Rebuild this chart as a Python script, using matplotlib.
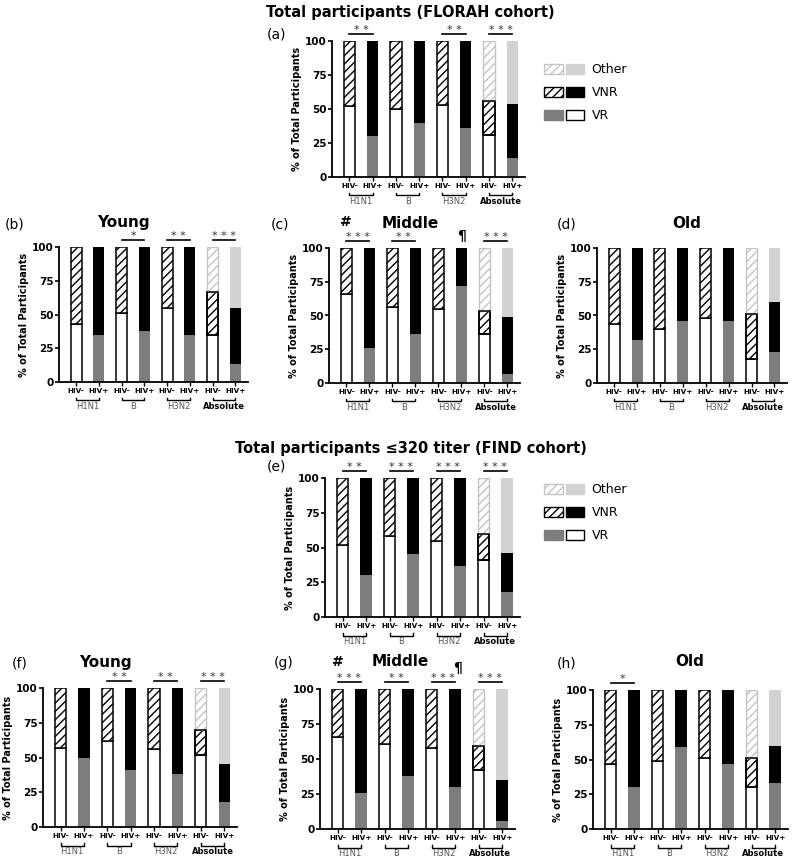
import matplotlib.pyplot as plt
from matplotlib.patches import Patch
from matplotlib.legend_handler import HandlerTuple
import matplotlib.transforms as mtransforms

plt.rcParams['font.family'] = ['DejaVu Sans']
plt.rcParams['hatch.linewidth'] = 1.0

groups = ['H1N1', 'B', 'H3N2', 'Absolute']
hiv_labels = ['HIV-', 'HIV+']

# % VR and % VNR per group (H1N1, B, H3N2, Absolute); Other = remainder
# (a) FLORAH total
vr_neg_a = [52, 50, 53, 31]
vnr_neg_a = [48, 50, 47, 25]
vr_pos_a = [30, 40, 36, 14]
vnr_pos_a = [70, 60, 64, 40]
sig_a = ['**', '', '**', '***']
# (b) FLORAH young
vr_neg_b = [43, 51, 55, 35]
vnr_neg_b = [57, 49, 45, 32]
vr_pos_b = [35, 38, 35, 13]
vnr_pos_b = [65, 62, 65, 42]
sig_b = ['', '*', '**', '***']
# (c) FLORAH middle
vr_neg_c = [66, 56, 55, 36]
vnr_neg_c = [34, 44, 45, 17]
vr_pos_c = [26, 36, 72, 7]
vnr_pos_c = [74, 64, 28, 42]
sig_c = ['***', '**', '', '***']
# (d) FLORAH old
vr_neg_d = [44, 40, 48, 18]
vnr_neg_d = [56, 60, 52, 33]
vr_pos_d = [32, 46, 46, 23]
vnr_pos_d = [68, 54, 54, 37]
sig_d = ['', '', '', '']
# (e) FIND total
vr_neg_e = [52, 58, 55, 41]
vnr_neg_e = [48, 42, 45, 19]
vr_pos_e = [30, 45, 37, 18]
vnr_pos_e = [70, 55, 63, 28]
sig_e = ['**', '***', '***', '***']
# (f) FIND young
vr_neg_f = [57, 62, 56, 52]
vnr_neg_f = [43, 38, 44, 18]
vr_pos_f = [50, 41, 38, 18]
vnr_pos_f = [50, 59, 62, 27]
sig_f = ['', '**', '**', '***']
# (g) FIND middle
vr_neg_g = [66, 61, 58, 42]
vnr_neg_g = [34, 39, 42, 17]
vr_pos_g = [26, 38, 30, 6]
vnr_pos_g = [74, 62, 70, 29]
sig_g = ['***', '**', '***', '***']
# (h) FIND old
vr_neg_h = [47, 49, 51, 30]
vnr_neg_h = [53, 51, 49, 21]
vr_pos_h = [30, 59, 47, 33]
vnr_pos_h = [70, 41, 53, 27]
sig_h = ['*', '', '', '']

GRAY = '#7d7d7d'
LIGHT = '#d2d2d2'
LIGHT_EDGE = '#c4c4c4'
W, H = 800, 863

fig = plt.figure(figsize=(8, 8.63), dpi=100)


def axes_at(x0, y0, x1, y1):
    # pixel box -> figure fraction
    return fig.add_axes([x0 / W, 1 - y1 / H, (x1 - x0) / W, (y1 - y0) / H])


def draw_panel(ax, vr_neg, vnr_neg, vr_pos, vnr_pos, sig):
    xn = [2 * i for i in range(4)]
    xp = [2 * i + 1 for i in range(4)]
    wd = 0.48
    # HIV- bars
    ax.bar(xn, vr_neg, wd, color='white', edgecolor='black', linewidth=1.1)
    ax.bar(xn, vnr_neg, wd, bottom=vr_neg, color='white', edgecolor='black',
           hatch='////', linewidth=1.1)
    top_n = vr_neg[3] + vnr_neg[3]
    ax.bar(xn[3], 100 - top_n, wd, bottom=top_n, color='white',
           edgecolor=LIGHT_EDGE, hatch='////', linewidth=1.0)
    ax.bar(xn[3], vnr_neg[3], wd, bottom=vr_neg[3], color='none',
           edgecolor='black', linewidth=1.1)
    # HIV+ bars
    ax.bar(xp, vr_pos, wd, color=GRAY, linewidth=0)
    ax.bar(xp, vnr_pos, wd, bottom=vr_pos, color='black', linewidth=0)
    top_p = vr_pos[3] + vnr_pos[3]
    ax.bar(xp[3], 100 - top_p, wd, bottom=top_p, color=LIGHT, linewidth=0)

    ax.set_xlim(-0.75, 7.55)
    ax.set_ylim(0, 100)
    ax.set_yticks([0, 25, 50, 75, 100])
    ax.set_yticklabels(['0', '25', '50', '75', '100'], fontsize=7.5,
                       fontweight='bold')
    ax.set_xticks(range(8))
    ax.set_xticklabels(hiv_labels * 4, fontsize=5.2, fontweight='bold')
    ax.tick_params(axis='x', length=3, width=1, pad=1)
    ax.tick_params(axis='y', length=3, width=1.2, pad=1)
    for s in ['top', 'right']:
        ax.spines[s].set_visible(False)
    for s in ['left', 'bottom']:
        ax.spines[s].set_linewidth(1.3)
    ax.set_ylabel('% of Total Participants', fontsize=7, fontweight='bold',
                  labelpad=2)

    trans = mtransforms.blended_transform_factory(ax.transData, ax.transAxes)
    for i, g in enumerate(groups):
        x0, x1 = 2 * i, 2 * i + 1
        ax.plot([x0, x0, x1, x1], [-0.115, -0.135, -0.135, -0.115], color='black',
                lw=1, transform=trans, clip_on=False)
        if g == 'Absolute':
            ax.text(x0 + 0.5, -0.145, g, transform=trans, ha='center', va='top',
                    fontsize=6, fontweight='bold')
        else:
            ax.text(x0 + 0.5, -0.145, g, transform=trans, ha='center', va='top',
                    fontsize=6, color='#555555')
        if sig[i]:
            ax.plot([x0, x1], [105, 105], color='black', lw=1.2, clip_on=False)
            ax.text(x0 + 0.5, 104.5, ' '.join(sig[i]), ha='center', va='bottom',
                    fontsize=8, color='#333333', clip_on=False)


panels = [
    ('(a)', None, (332, 41, 525, 177), vr_neg_a, vnr_neg_a, vr_pos_a, vnr_pos_a, sig_a),
    ('(b)', 'Young', (59, 247, 248, 382), vr_neg_b, vnr_neg_b, vr_pos_b, vnr_pos_b, sig_b),
    ('(c)', 'Middle', (329, 248, 520, 383), vr_neg_c, vnr_neg_c, vr_pos_c, vnr_pos_c, sig_c),
    ('(d)', 'Old', (597, 248, 787, 383), vr_neg_d, vnr_neg_d, vr_pos_d, vnr_pos_d, sig_d),
    ('(e)', None, (325, 478, 520, 617), vr_neg_e, vnr_neg_e, vr_pos_e, vnr_pos_e, sig_e),
    ('(f)', 'Young', (43, 688, 237, 827), vr_neg_f, vnr_neg_f, vr_pos_f, vnr_pos_f, sig_f),
    ('(g)', 'Middle', (320, 689, 515, 829), vr_neg_g, vnr_neg_g, vr_pos_g, vnr_pos_g, sig_g),
    ('(h)', 'Old', (593, 690, 788, 829), vr_neg_h, vnr_neg_h, vr_pos_h, vnr_pos_h, sig_h),
]
label_pos = {'(a)': (267, 35), '(b)': (5, 225), '(c)': (271, 225), '(d)': (557, 225),
             '(e)': (267, 466), '(f)': (12, 663), '(g)': (274, 663), '(h)': (557, 663)}
title_pos = {'(b)': (123, 223), '(c)': (410, 223), '(d)': (687, 223),
             '(f)': (105, 662), '(g)': (400, 662), '(h)': (690, 662)}

axes = {}
for lab, title, box, vn, wn, vp, wp, sg in panels:
    ax = axes_at(*box)
    draw_panel(ax, vn, wn, vp, wp, sg)
    axes[lab] = ax
    lx, ly = label_pos[lab]
    fig.text(lx / W, 1 - ly / H, lab, fontsize=10, va='center', ha='left')
    if title:
        tx, ty = title_pos[lab]
        fig.text(tx / W, 1 - ty / H, title, fontsize=11, fontweight='bold',
                 ha='center', va='center')

# extra markers
for lab in ['(c)', '(g)']:
    axes[lab].text(0, 114, '#', ha='center', va='bottom', fontsize=10,
                   fontweight='bold', clip_on=False)
axes['(c)'].text(5, 104, '¶', ha='center', va='bottom', fontsize=10,
                 fontweight='bold', clip_on=False)
axes['(g)'].text(5.1, 110, '¶', ha='center', va='bottom', fontsize=10,
                 fontweight='bold', clip_on=False)

fig.text(410 / W, 1 - 12 / H, 'Total participants (FLORAH cohort)', fontsize=10.5,
         fontweight='bold', ha='center', va='center')
fig.text(411 / W, 1 - 448 / H, 'Total participants ≤320 titer (FIND cohort)',
         fontsize=10.5, fontweight='bold', ha='center', va='center')

handles = [
    (Patch(facecolor='white', edgecolor=LIGHT_EDGE, hatch='////'),
     Patch(facecolor=LIGHT, edgecolor=LIGHT)),
    (Patch(facecolor='white', edgecolor='black', hatch='////'),
     Patch(facecolor='black', edgecolor='black')),
    (Patch(facecolor=GRAY, edgecolor=GRAY),
     Patch(facecolor='white', edgecolor='black')),
]
names = ['Other', 'VNR', 'VR']
for yy in [52, 472]:
    fig.legend(handles, names, handler_map={tuple: HandlerTuple(ndivide=None, pad=0.2)},
               loc='upper left', bbox_to_anchor=(533 / W, 1 - yy / H), frameon=False,
               fontsize=9, handlelength=3.2, handleheight=0.9, labelspacing=0.8,
               handletextpad=0.6)

fig.savefig('out.png', dpi=100)
